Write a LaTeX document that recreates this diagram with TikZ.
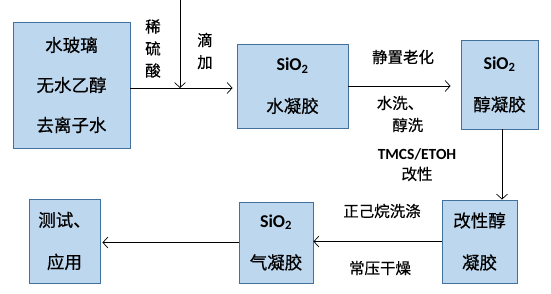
\documentclass[tikz,border=0pt]{standalone}
\usepackage{fontspec}
\newfontfamily\cjk{Noto Sans CJK SC}[FakeBold=0.5]
\newfontfamily\latin{Carlito}
\usetikzlibrary{arrows.meta,positioning}
\definecolor{boxfill}{HTML}{BDD7EE}
\definecolor{boxline}{HTML}{41719C}
\newcommand\sio{{\latin\bfseries\fontsize{18}{18}\selectfont SiO\textsubscript{2}}}

\begin{document}
\begin{tikzpicture}[x=1pt,y=-1pt,font=\cjk,
  rec/.style={draw=boxline,fill=boxfill,line width=0.9pt,align=center,inner sep=0pt,font={\cjk\fontsize{17.5}{42}\selectfont}},
  lab/.style={align=center,font={\cjk\fontsize{15.5}{22}\selectfont}},
  arr/.style={-{Straight Barb[length=5pt,width=11pt]},line width=0.7pt}]
\useasboundingbox (0,0) rectangle (551,294);
\node[rec,minimum width=117pt,minimum height=126pt,font={\cjk\fontsize{17.5}{40}\selectfont}] (glass) at (71.5,85) {水玻璃\\无水乙醇\\去离子水};
\node[rec,minimum width=111pt,minimum height=84pt] (hydro) at (292.5,86) {\sio\\水凝胶};
\node[rec,minimum width=77pt,minimum height=89pt] (alco) at (499.5,84.5) {\sio\\醇凝胶};
\node[rec,minimum width=75pt,minimum height=83pt] (modi) at (479.5,241.5) {改性醇\\凝胶};
\node[rec,minimum width=74pt,minimum height=81pt] (aero) at (276,242.5) {\sio\\气凝胶};
\node[rec,minimum width=71pt,minimum height=84pt] (test) at (64.5,241) {测试、\\应用};
\node[lab] (acid) at (153,48.5) {稀\\硫\\酸};
\node[lab] (drip) at (205,51) {滴\\加};
\node[lab] (age) at (403,57) {静置老化};
\node[lab,align=right] (wash) at (400,114) {水洗、\\醇洗};
\node[lab,font={\cjk\fontsize{15.5}{20}\selectfont}] (tmcs) at (417,165) {{\latin\bfseries\fontsize{15.5}{15.5}\selectfont TMCS/ETOH}\\改性};
\node[lab] (hex) at (382,211) {正己烷洗涤};
\node[lab] (dry) at (380,268) {常压干燥};
\coordinate (feed) at (180,0);
\coordinate (mix) at (180,88);
\draw[arr] (feed) -- (mix);
\draw[arr,shorten >=4pt] (glass.east |- mix) -- (mix -| hydro.west);
\draw[arr,shorten >=10pt] (hydro.east) -- (hydro.east -| alco.west);
\draw[arr] ([xshift=2.5pt]alco.south) -- ([xshift=2.5pt]alco.south |- modi.north);
\draw[arr] (modi.west) -- (modi.west -| aero.east);
\draw[arr,shorten >=2pt] (aero.west) -- (aero.west -| test.east);
\end{tikzpicture}
\end{document}
